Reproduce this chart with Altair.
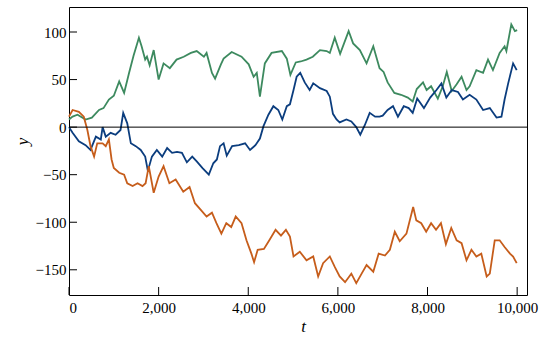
import altair as alt
import pandas as pd

# ---- data (t, value) ----
t_green = [0, 80, 190, 370, 510, 670, 770, 890, 1000, 1120, 1230, 1340, 1440, 1560, 1620, 1700, 1740, 1800,
           1890, 2000, 2110, 2250, 2400, 2560, 2720, 2850, 3010, 3070, 3190, 3260, 3390, 3450, 3630, 3850,
           4010, 4120, 4190, 4260, 4370, 4520, 4750, 4860, 4940, 5060, 5170, 5300, 5440, 5600, 5750, 5820,
           5930, 6050, 6240, 6340, 6490, 6640, 6790, 6930, 7020, 7110, 7260, 7410, 7560, 7670, 7760, 7900,
           7980, 8080, 8230, 8340, 8430, 8540, 8650, 8760, 8870, 8940, 9090, 9240, 9350, 9460, 9610, 9720,
           9760, 9870, 9950, 10000]
v_green = [8, 11, 13, 8, 10, 18, 20, 29, 33, 48, 36, 57, 75, 94, 85, 71, 74, 65,
           81, 50, 67, 62, 71, 74, 78, 80, 74, 78, 57, 51, 66, 72, 79, 74,
           66, 53, 57, 32, 67, 78, 80, 72, 55, 68, 69, 71, 74, 81, 80, 78,
           94, 77, 101, 88, 81, 67, 85, 62, 58, 47, 36, 34, 31, 27, 40, 47,
           39, 43, 30, 43, 58, 38, 45, 53, 39, 43, 60, 57, 71, 60, 78, 85,
           80, 108, 101, 102]

t_blue = [0, 80, 220, 370, 480, 600, 710, 750, 820, 930, 1040, 1150, 1210, 1300, 1380, 1490, 1600, 1700,
          1760, 1850, 1960, 2080, 2190, 2300, 2410, 2520, 2630, 2750, 2850, 2980, 3120, 3220, 3300, 3370,
          3450, 3520, 3640, 3790, 3930, 4040, 4160, 4260, 4340, 4450, 4560, 4670, 4760, 4860, 4930, 5010,
          5080, 5160, 5260, 5370, 5450, 5600, 5750, 5820, 5890, 5970, 6040, 6190, 6300, 6410, 6500, 6600,
          6710, 6830, 6930, 7000, 7110, 7230, 7340, 7470, 7580, 7670, 7770, 7920, 8060, 8200, 8310, 8420,
          8540, 8680, 8790, 8940, 9090, 9240, 9390, 9540, 9650, 9720, 9800, 9910, 9990]
v_blue = [0, -6, -15, -19, -24, -10, -13, 0, -10, -6, -8, -3, 15, 4, -17, -20, -24, -31,
          -46, -31, -24, -31, -22, -27, -26, -27, -37, -31, -36, -43, -50, -38, -34, -20,
          -17, -30, -20, -19, -17, -24, -19, -12, 1, 13, 22, 18, 8, 22, 24, 39,
          53, 57, 47, 39, 46, 41, 38, 32, 14, 8, 5, 8, 6, 0, -8, 2,
          15, 11, 11, 12, 18, 22, 11, 22, 20, 15, 30, 20, 31, 39, 46, 31,
          39, 37, 29, 34, 29, 18, 20, 10, 11, 29, 46, 67, 60]

t_orange = [0, 80, 220, 330, 410, 480, 560, 630, 750, 820, 890, 950, 1000, 1120, 1230, 1300, 1420, 1530,
            1640, 1710, 1780, 1890, 2000, 2110, 2240, 2380, 2550, 2690, 2810, 2960, 3070, 3190, 3290, 3400,
            3510, 3620, 3720, 3850, 3960, 4070, 4130, 4210, 4350, 4470, 4610, 4730, 4840, 4930, 5010, 5150,
            5300, 5450, 5560, 5670, 5820, 5930, 6040, 6160, 6300, 6410, 6530, 6640, 6790, 6910, 7050, 7160,
            7270, 7380, 7530, 7680, 7750, 7860, 7970, 8080, 8190, 8300, 8410, 8530, 8650, 8760, 8870, 8980,
            9090, 9200, 9320, 9390, 9500, 9610, 9720, 9840, 9910, 9990]
v_orange = [11, 18, 16, 11, -3, -20, -31, -17, -17, -20, -13, -34, -43, -48, -50, -59, -62, -59,
            -62, -59, -41, -69, -52, -41, -59, -55, -68, -63, -80, -88, -94, -90, -101, -112,
            -101, -105, -94, -101, -119, -133, -142, -129, -128, -119, -108, -114, -108, -115, -136, -131,
            -140, -136, -157, -143, -136, -147, -157, -163, -154, -164, -154, -145, -152, -133, -135, -129,
            -110, -120, -112, -84, -98, -101, -110, -101, -108, -101, -123, -106, -119, -122, -140, -129,
            -136, -133, -157, -154, -119, -119, -126, -133, -136, -143]

series_names = ["green", "blue", "orange"]
series_colors = ["#3d8a5f", "#0b3d7e", "#c65d1b"]

x_ticks = [0, 2000, 4000, 6000, 8000, 10000]
y_ticks = [-150, -100, -50, 0, 50, 100]

rows = []
for name, ts, vs in [("green", t_green, v_green), ("blue", t_blue, v_blue), ("orange", t_orange, v_orange)]:
    for t, v in zip(ts, vs):
        rows.append({"t": t, "y": v, "series": name})
df = pd.DataFrame(rows)

W, H = 458, 288
FONT = "Liberation Serif, Times New Roman, serif"
xscale = alt.Scale(domain=[0, 10220], nice=False, zero=False)
yscale = alt.Scale(domain=[-176.5, 126.3], nice=False, zero=False)

xaxis = alt.Axis(values=x_ticks, format=",.0f", title="t", labelPadding=5,
                 labelFont=FONT, titleFont=FONT,
                 titleX=234, titleY=36, titleBaseline="alphabetic", titleAlign="center")
yaxis = alt.Axis(values=y_ticks, format="d", title="y", labelPadding=3,
                 labelFont=FONT, titleFont=FONT,
                 titleX=-42, titleY=134, titleBaseline="alphabetic", titleAlign="center")

lines = alt.Chart(df).mark_line(strokeWidth=1.8).encode(
    x=alt.X("t:Q", scale=xscale, axis=xaxis),
    y=alt.Y("y:Q", scale=yscale, axis=yaxis),
    color=alt.Color("series:N", scale=alt.Scale(domain=series_names, range=series_colors), legend=None),
    detail="series:N",
)

zero = alt.Chart(pd.DataFrame({"y": [0]})).mark_rule(color="black", strokeWidth=1).encode(
    y=alt.Y("y:Q", scale=yscale, axis=yaxis)
)

xt = alt.Chart(pd.DataFrame({"t": x_ticks})).mark_rule(color="black", strokeWidth=1).encode(
    x=alt.X("t:Q", scale=xscale, axis=xaxis), y=alt.value(H), y2=alt.value(H - 8)
)
yt = alt.Chart(pd.DataFrame({"y": y_ticks})).mark_rule(color="black", strokeWidth=1).encode(
    y=alt.Y("y:Q", scale=yscale, axis=yaxis), x=alt.value(0), x2=alt.value(8)
)

chart = alt.layer(lines, zero, xt, yt).properties(
    width=W, height=H,
    autosize=alt.AutoSizeParams(type="none"),
    padding={"left": 69, "top": 7, "right": 28, "bottom": 49},
).configure_view(stroke="black", strokeWidth=1).configure_axis(
    domain=False, grid=False, ticks=False,
    labelFont=FONT, labelFontSize=15, labelColor="black",
    titleFont=FONT, titleFontSize=17, titleFontStyle="italic", titleFontWeight="normal", titleColor="black",
)

chart.save("out.html", embed_options={"renderer": "svg", "actions": False})
